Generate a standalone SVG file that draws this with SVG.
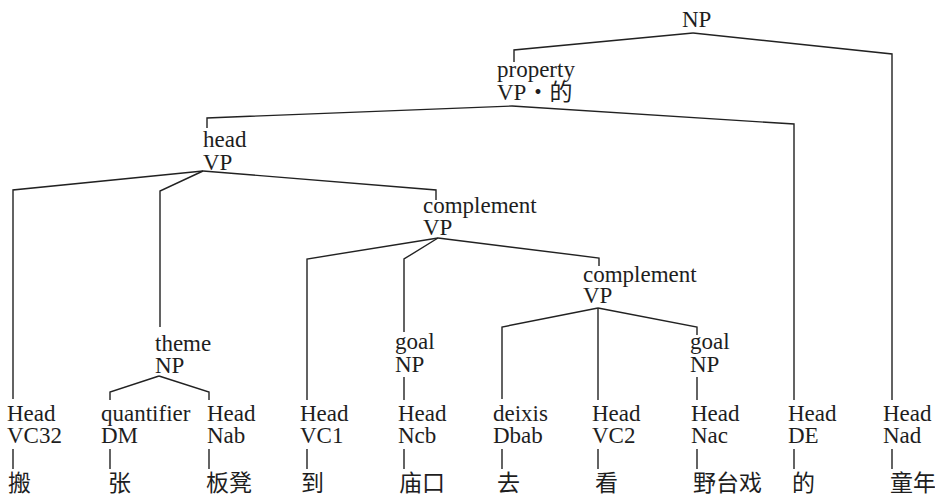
<svg xmlns="http://www.w3.org/2000/svg" width="935" height="495" viewBox="0 0 935 495">
<style>
.e{fill:none;stroke:#222;stroke-width:1.4;stroke-linejoin:miter}
svg text{font-family:'Liberation Serif','Noto Sans CJK SC',serif !important;font-size:23px;fill:#1e1e1e}
</style>
<rect width="935" height="495" fill="#fff"/>
<g id="connectors">
<polyline class="e" points="693,33 514,50 514,62"/>
<polyline class="e" points="693,33 892,54 892,400"/>
<polyline class="e" points="512,106 207,118 207,128"/>
<polyline class="e" points="512,106 794,124 794,400"/>
<polyline class="e" points="203,171 13,190 13,399"/>
<polyline class="e" points="203,171 160,191 160,327"/>
<polyline class="e" points="203,171 436,190 436,200"/>
<polyline class="e" points="438,238 307,259 307,400"/>
<polyline class="e" points="438,238 404,259 404,332"/>
<polyline class="e" points="438,238 599,258 599,266"/>
<polyline class="e" points="598,308 502,327 502,399"/>
<polyline class="e" points="598,308 598,400"/>
<polyline class="e" points="598,308 697,327 697,335"/>
<polyline class="e" points="159,376 110,392 110,400"/>
<polyline class="e" points="159,376 209,392 209,400"/>
<line class="e" x1="404" y1="377" x2="404" y2="400"/>
<line class="e" x1="697" y1="377" x2="697" y2="400"/>
<line class="e" x1="13" y1="449" x2="13" y2="469"/>
<line class="e" x1="110" y1="449" x2="110" y2="469"/>
<line class="e" x1="209" y1="449" x2="209" y2="469"/>
<line class="e" x1="307" y1="449" x2="307" y2="469"/>
<line class="e" x1="404" y1="449" x2="404" y2="469"/>
<line class="e" x1="502" y1="449" x2="502" y2="469"/>
<line class="e" x1="598" y1="449" x2="598" y2="469"/>
<line class="e" x1="697" y1="449" x2="697" y2="469"/>
<line class="e" x1="794" y1="449" x2="794" y2="469"/>
<line class="e" x1="892" y1="449" x2="892" y2="469"/>
</g>
<g font-family="Liberation Serif, Noto Sans CJK SC, serif" font-size="23" fill="#1e1e1e">
<g id="np-root"><text x="682" y="27" style="font-family:'Liberation Serif',serif">NP</text></g>
<g id="property-vp"><text x="497" y="77" style="font-family:'Liberation Serif',serif">property</text><text x="497" y="100" style="font-family:'Liberation Serif','Noto Sans CJK SC',serif">VP・的</text></g>
<g id="head-vp"><text x="203" y="147" style="font-family:'Liberation Serif',serif">head</text><text x="203" y="170" style="font-family:'Liberation Serif',serif">VP</text></g>
<g id="complement-vp1"><text x="423" y="213" style="font-family:'Liberation Serif',serif">complement</text><text x="423" y="235" style="font-family:'Liberation Serif',serif">VP</text></g>
<g id="complement-vp2"><text x="583" y="282" style="font-family:'Liberation Serif',serif">complement</text><text x="583" y="303" style="font-family:'Liberation Serif',serif">VP</text></g>
<g id="theme-np"><text x="155" y="351" style="font-family:'Liberation Serif',serif">theme</text><text x="155" y="373" style="font-family:'Liberation Serif',serif">NP</text></g>
<g id="goal-np1"><text x="395" y="349" style="font-family:'Liberation Serif',serif">goal</text><text x="395" y="372" style="font-family:'Liberation Serif',serif">NP</text></g>
<g id="goal-np2"><text x="690" y="349" style="font-family:'Liberation Serif',serif">goal</text><text x="690" y="372" style="font-family:'Liberation Serif',serif">NP</text></g>
<g id="leaf-vc32"><text x="7" y="421" style="font-family:'Liberation Serif',serif">Head</text><text x="7" y="443" style="font-family:'Liberation Serif',serif">VC32</text><text x="8" y="491" style="font-family:'Noto Sans CJK SC',sans-serif">搬</text></g>
<g id="leaf-dm"><text x="101" y="421" style="font-family:'Liberation Serif',serif">quantifier</text><text x="101" y="443" style="font-family:'Liberation Serif',serif">DM</text><text x="108" y="491" style="font-family:'Noto Sans CJK SC',sans-serif">张</text></g>
<g id="leaf-nab"><text x="207" y="421" style="font-family:'Liberation Serif',serif">Head</text><text x="207" y="443" style="font-family:'Liberation Serif',serif">Nab</text><text x="206" y="491" style="font-family:'Noto Sans CJK SC',sans-serif">板凳</text></g>
<g id="leaf-vc1"><text x="300" y="421" style="font-family:'Liberation Serif',serif">Head</text><text x="300" y="443" style="font-family:'Liberation Serif',serif">VC1</text><text x="301" y="491" style="font-family:'Noto Sans CJK SC',sans-serif">到</text></g>
<g id="leaf-ncb"><text x="398" y="421" style="font-family:'Liberation Serif',serif">Head</text><text x="398" y="443" style="font-family:'Liberation Serif',serif">Ncb</text><text x="399" y="491" style="font-family:'Noto Sans CJK SC',sans-serif">庙口</text></g>
<g id="leaf-dbab"><text x="493" y="421" style="font-family:'Liberation Serif',serif">deixis</text><text x="493" y="443" style="font-family:'Liberation Serif',serif">Dbab</text><text x="497" y="491" style="font-family:'Noto Sans CJK SC',sans-serif">去</text></g>
<g id="leaf-vc2"><text x="592" y="421" style="font-family:'Liberation Serif',serif">Head</text><text x="592" y="443" style="font-family:'Liberation Serif',serif">VC2</text><text x="595" y="491" style="font-family:'Noto Sans CJK SC',sans-serif">看</text></g>
<g id="leaf-nac"><text x="691" y="421" style="font-family:'Liberation Serif',serif">Head</text><text x="691" y="443" style="font-family:'Liberation Serif',serif">Nac</text><text x="693" y="491" style="font-family:'Noto Sans CJK SC',sans-serif">野台戏</text></g>
<g id="leaf-de"><text x="788" y="421" style="font-family:'Liberation Serif',serif">Head</text><text x="788" y="443" style="font-family:'Liberation Serif',serif">DE</text><text x="792" y="491" style="font-family:'Noto Sans CJK SC',sans-serif">的</text></g>
<g id="leaf-nad"><text x="883" y="421" style="font-family:'Liberation Serif',serif">Head</text><text x="883" y="443" style="font-family:'Liberation Serif',serif">Nad</text><text x="890" y="491" style="font-family:'Noto Sans CJK SC',sans-serif">童年</text></g>
</g>
</svg>
